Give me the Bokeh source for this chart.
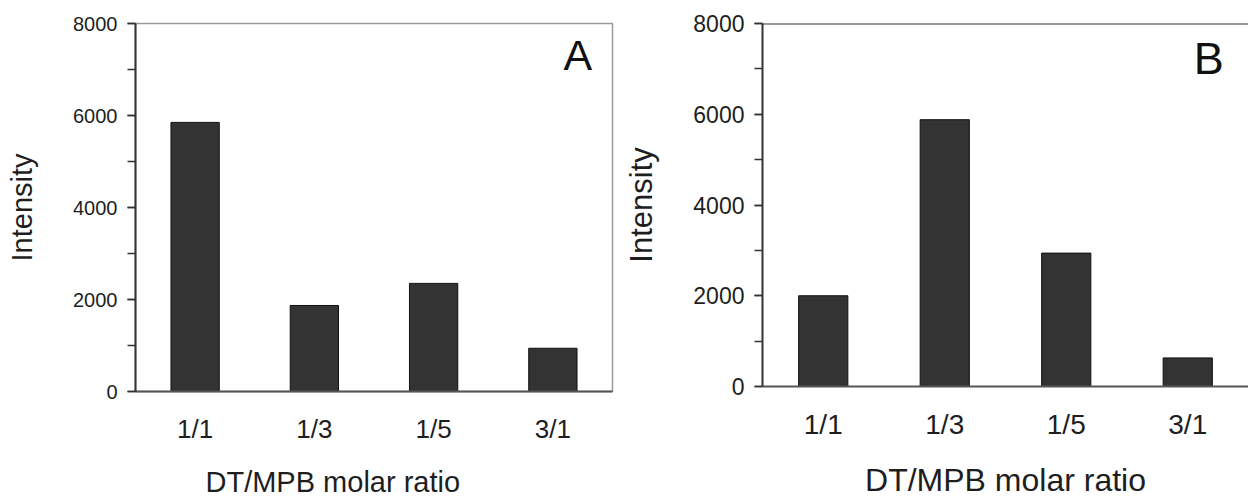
from bokeh.plotting import figure
from bokeh.layouts import row
from bokeh.models import Range1d, FactorRange, SingleIntervalTicker, Title, Label, Span
from bokeh.embed import file_html
from bokeh.resources import INLINE

ratios = ["1/1", "1/3", "1/5", "3/1"]
intensity_a = [5850, 1870, 2350, 940]
intensity_b = [2000, 5880, 2940, 630]
y_max = 8000
x_title = "DT/MPB molar ratio"
y_title = "Intensity"

FONT = "Liberation Sans"
TXT = "#1e1e1e"


def panel(values, letter, fw, fh, left, top, right, bottom, tick_fs, cat_fs, title_fs,
          ytitle_fs, letter_fs, letter_x, letter_y, title_align, title_offset,
          ylabel_standoff, cat_standoff, title_standoff, boxed):
    p = figure(x_range=FactorRange(*ratios, range_padding=0), y_range=Range1d(0, y_max),
               frame_width=fw, frame_height=fh, min_border_left=left, min_border_top=top,
               min_border_right=right, min_border_bottom=bottom,
               output_backend="svg", toolbar_location=None)
    p.vbar(x=ratios, top=values, width=0.405, fill_color="#333333", line_color="#111111",
           line_width=1)
    p.xgrid.visible = False
    p.ygrid.visible = False
    p.background_fill_color = "white"
    p.border_fill_color = "white"
    if boxed:
        p.outline_line_color = "#9a9a9a"
        p.outline_line_width = 1.5
    else:
        p.outline_line_color = None
        p.add_layout(Span(location=y_max, dimension="width", line_color="#333333",
                          line_width=2))

    ya = p.yaxis[0]
    ya.ticker = SingleIntervalTicker(interval=2000, num_minor_ticks=2)
    ya.axis_line_color = "#333333"
    ya.axis_line_width = 2
    ya.major_tick_line_color = "#333333"
    ya.major_tick_line_width = 1.5
    ya.minor_tick_line_color = "#333333"
    ya.minor_tick_line_width = 1.5
    ya.major_tick_out = 8
    ya.major_tick_in = 0
    ya.minor_tick_out = 8
    ya.minor_tick_in = 0
    ya.major_label_text_font = FONT
    ya.major_label_text_font_size = tick_fs
    ya.major_label_text_color = TXT
    ya.major_label_standoff = 10
    ya.axis_label = y_title
    ya.axis_label_text_font = FONT
    ya.axis_label_text_font_size = ytitle_fs
    ya.axis_label_text_font_style = "normal"
    ya.axis_label_text_color = TXT
    ya.axis_label_standoff = ylabel_standoff

    xa = p.xaxis[0]
    xa.axis_line_color = "#555555"
    xa.axis_line_width = 2
    xa.major_tick_line_color = None
    xa.minor_tick_line_color = None
    xa.major_tick_out = 0
    xa.major_tick_in = 0
    xa.major_label_text_font = FONT
    xa.major_label_text_font_size = cat_fs
    xa.major_label_text_color = TXT
    xa.major_label_standoff = cat_standoff

    t = Title(text=x_title, align=title_align, offset=title_offset,
              text_font=FONT, text_font_size=title_fs, text_font_style="normal",
              text_color=TXT, standoff=title_standoff)
    p.add_layout(t, "below")

    p.add_layout(Label(x=letter_x, y=letter_y, text=letter, text_font=FONT,
                       text_font_size=letter_fs, text_color="#111111",
                       text_baseline="top", text_align="left"))
    return p


pa = panel(intensity_a, "A", fw=477, fh=368, left=135, top=22, right=8, bottom=110,
           tick_fs="20px", cat_fs="26px", title_fs="29px", ytitle_fs="29px",
           letter_fs="43px", letter_x=3.59, letter_y=7830, title_align="left",
           title_offset=70, ylabel_standoff=32, cat_standoff=22,
           title_standoff=34, boxed=True)
pb = panel(intensity_b, "B", fw=486, fh=363, left=142, top=23, right=0, bottom=114,
           tick_fs="23px", cat_fs="28px", title_fs="32px", ytitle_fs="31px",
           letter_fs="45px", letter_x=3.55, letter_y=7780, title_align="center",
           title_offset=0, ylabel_standoff=31, cat_standoff=22,
           title_standoff=34, boxed=False)

layout = row(pa, pb)
open("out.html", "w").write(file_html(layout, INLINE))
